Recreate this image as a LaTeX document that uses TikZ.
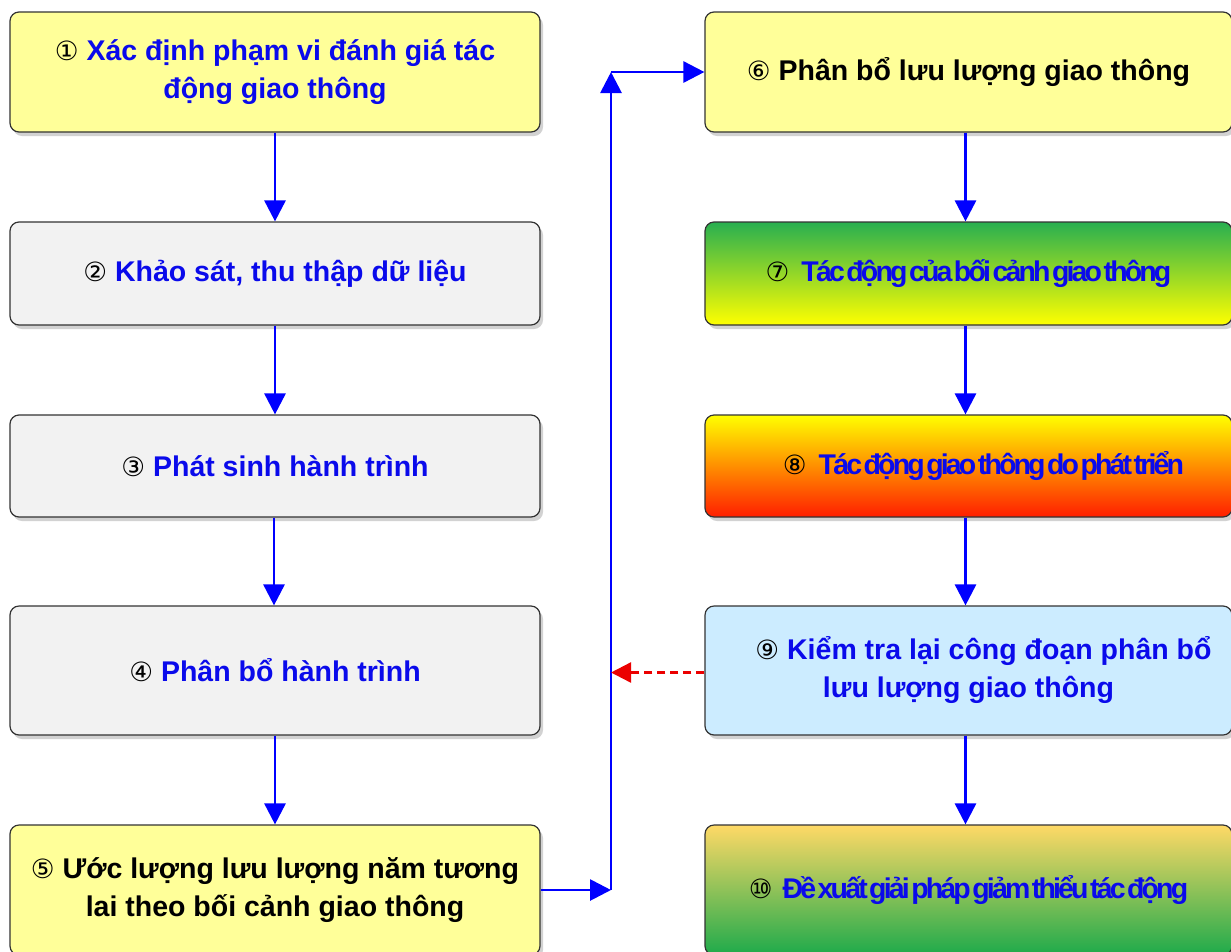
\documentclass[tikz,border=0pt]{standalone}
\usepackage{fontspec}
\setmainfont{Liberation Sans}
\newfontfamily\symf{DejaVu Sans}
\newfontfamily\condf{Liberation Sans}[LetterSpace=-10,WordSpace=0.3]
\usetikzlibrary{shadows,arrows.meta}
\definecolor{boxyellow}{RGB}{255,255,153}
\definecolor{boxgray}{RGB}{242,242,242}
\definecolor{boxblue}{RGB}{204,236,255}
\definecolor{txtblue}{RGB}{10,10,235}
\definecolor{arrblue}{RGB}{0,0,255}
\definecolor{grntop}{RGB}{40,175,80}
\definecolor{yel}{RGB}{255,255,0}
\definecolor{redbot}{RGB}{255,30,0}
\definecolor{goldtop}{RGB}{255,217,102}
\definecolor{grnbot}{RGB}{30,170,75}
\definecolor{dashred}{RGB}{235,0,0}
\tikzset{
  stepbox/.style={rectangle, rounded corners=9pt, draw=black!80, line width=1.2pt,
    minimum width=530pt, align=center, text=txtblue,
    font=\fontsize{28.5}{38}\selectfont\bfseries,
    drop shadow={shadow xshift=3pt, shadow yshift=-4pt, opacity=0.35}},
  flow/.style={draw=arrblue, line width=2.8pt, -{Triangle[width=21pt,length=21pt]}}
}
\newcommand{\cn}[1]{\textcolor{black}{\symf\mdseries\fontsize{26.5}{38}\selectfont #1}}
\begin{document}
\begin{tikzpicture}[x=1pt,y=-1pt]
\useasboundingbox (0,0) rectangle (1231,951);
\fill[white] (0,0) rectangle (1231,951);
% left column
\node[stepbox, fill=boxyellow, minimum height=120pt] (b1) at (275,72)
  {\cn{①} Xác định phạm vi đánh giá tác\\động giao thông};
\node[stepbox, fill=boxgray, minimum height=103pt] (b2) at (275,273.5)
  {\cn{②} Khảo sát, thu thập dữ liệu};
\node[stepbox, fill=boxgray, minimum height=102pt] (b3) at (275,466)
  {\cn{③} Phát sinh hành trình};
\node[stepbox, fill=boxgray, minimum height=129pt] (b4) at (275,670.5)
  {\cn{④} Phân bổ hành trình};
\node[stepbox, fill=boxyellow, minimum height=130pt, text=black] (b5) at (275,890)
  {\cn{⑤} Ước lượng lưu lượng năm tương\\lai theo bối cảnh giao thông};
% right column
\node[stepbox, fill=boxyellow, minimum width=527pt, minimum height=120pt, text=black] (b6) at (968.5,72)
  {\cn{⑥} Phân bổ lưu lượng giao thông};
\node[stepbox, top color=grntop, bottom color=yel, minimum width=527pt, minimum height=103pt] (b7) at (968.5,273.5)
  {\cn{⑦}\hspace{12pt}{\condf\bfseries Tác động của bối cảnh giao thông}};
\node[stepbox, top color=yel, bottom color=redbot, minimum width=527pt, minimum height=102pt] (b8) at (968.5,466)
  {\hspace{30pt}\cn{⑧}\hspace{12pt}{\condf\bfseries Tác động giao thông do phát triển}};
\node[stepbox, fill=boxblue, minimum width=527pt, minimum height=129pt] (b9) at (968.5,670.5)
  {\hspace{30pt}\cn{⑨} Kiểm tra lại công đoạn phân bổ\\lưu lượng giao thông};
\node[stepbox, top color=goldtop, bottom color=grnbot, minimum width=527pt, minimum height=130pt] (b10) at (968.5,890)
  {\cn{⑩}\hspace{10pt}{\condf\bfseries Đề xuất giải pháp giảm thiểu tác động}};
% connectors
\draw[flow] (b1.south) -- (b2.north);
\draw[flow] (b2.south) -- (b3.north);
\draw[flow] ([xshift=-1pt]b3.south) -- ([xshift=-1pt]b4.north);
\draw[flow] (b4.south) -- (b5.north);
\draw[flow] ([xshift=-3pt]b6.south) -- ([xshift=-3pt]b7.north);
\draw[flow] ([xshift=-3pt]b7.south) -- ([xshift=-3pt]b8.north);
\draw[flow] ([xshift=-3pt]b8.south) -- ([xshift=-3pt]b9.north);
\draw[flow] ([xshift=-3pt]b9.south) -- ([xshift=-3pt]b10.north);
\coordinate (jx) at (611,0);
\coordinate (j1) at (b5.east -| jx);
\coordinate (j2) at (b6.west -| jx);
\draw[flow] (b5.east) -- (j1);
\draw[flow] (j1) -- (j2);
\draw[flow] (j2) -- (b6.west);
\draw[draw=dashred, line width=2.4pt, dash pattern=on 8pt off 5pt, -{Triangle[width=20pt,length=20pt]}] ([yshift=-2pt]b9.west) -- ([yshift=-2pt]b9.west -| jx);
\end{tikzpicture}
\end{document}
